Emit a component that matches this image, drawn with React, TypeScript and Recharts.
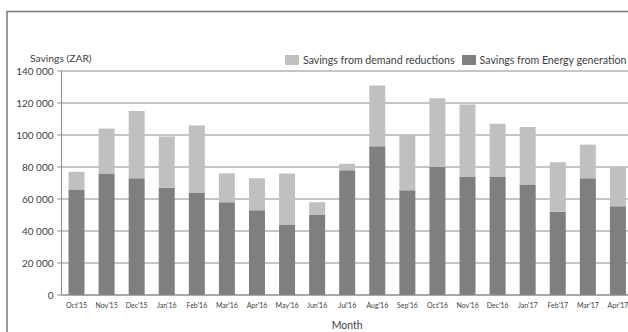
import React from 'react'
import { BarChart, Bar, XAxis, YAxis, CartesianGrid, Legend } from 'recharts'

const months = [
  "Oct'15", "Nov'15", "Dec'15", "Jan'16", "Feb'16", "Mar'16", "Apr'16", "May'16", "Jun'16", "Jul'16",
  "Aug'16", "Sep'16", "Oct'16", "Nov'16", "Dec'16", "Jan'17", "Feb'17", "Mar'17", "Apr'17",
]

// savings from energy generation (ZAR), bottom of each stack
const energyGeneration = [
  66000, 76000, 73000, 67000, 64000, 58000, 53000, 44000, 50000, 78000,
  93000, 65500, 80000, 74000, 74000, 69000, 52000, 73000, 55500,
]

// savings from demand reductions (ZAR), stacked on top
const demandReductions = [
  11000, 28000, 42000, 32000, 42000, 18000, 20000, 32000, 8000, 4000,
  38000, 34500, 43000, 45000, 33000, 36000, 31000, 21000, 24500,
]

const yTicks = [0, 20000, 40000, 60000, 80000, 100000, 120000, 140000]

const data = months.map((month, i) => ({
  month,
  energy: energyGeneration[i],
  demand: demandReductions[i],
}))

const FONT = 'Lato, "Liberation Sans", sans-serif'
const TEXT = '#404040'
const GRID = '#8c8c8c'
const LIGHT = '#c0c0c0'
const DARK = '#7f7f7f'

const fmt = (v: number) => v.toLocaleString('en-US').replace(/,/g, ' ')

function LegendContent({ payload }: any) {
  // demand reductions listed first, as on the original sheet
  const items = [...(payload || [])].reverse()
  return (
    <div style={{ display: 'flex', alignItems: 'center', fontFamily: FONT, fontSize: 10.6, color: TEXT, whiteSpace: 'nowrap' }}>
      {items.map((p: any) => (
        <div key={p.value} style={{ display: 'flex', alignItems: 'center', marginRight: 7 }}>
          <span style={{ display: 'inline-block', width: 14, height: 10, background: p.color, marginRight: 4 }} />
          <span>{p.value}</span>
        </div>
      ))}
    </div>
  )
}

export default function App() {
  return (
    <div style={{ position: 'fixed', left: 0, top: 0, width: 628, height: 332, overflow: 'hidden', background: '#fff' }}>
      <div style={{ position: 'absolute', left: 0, top: 0 }}>
        <BarChart width={640} height={332} data={data} margin={{ top: 71, right: 7, left: 0, bottom: 0 }}>
          <CartesianGrid vertical={false} stroke={GRID} />
          <XAxis
            dataKey="month"
            height={37}
            axisLine={{ stroke: GRID }}
            tickLine={false}
            tickSize={0}
            tickMargin={8}
            interval={0}
            tick={{ fontSize: 7, fill: TEXT, fontFamily: FONT }}
            label={{ value: 'Month', position: 'insideBottom', offset: 3, fontSize: 10.5, fill: TEXT, fontFamily: FONT }}
          />
          <YAxis
            width={61.5}
            domain={[0, 140000]}
            ticks={yTicks}
            tickFormatter={fmt}
            axisLine={{ stroke: GRID }}
            tickLine={{ stroke: GRID }}
            tickSize={4}
            tickMargin={4}
            tick={{ fontSize: 10, fill: TEXT, fontFamily: FONT }}
            label={{
              content: () => (
                <text x={30} y={61.5} fontSize={10.3} fill={TEXT} fontFamily={FONT}>Savings (ZAR)</text>
              ),
            }}
          />
          <Legend
            verticalAlign="middle"
            layout="horizontal"
            content={<LegendContent />}
            wrapperStyle={{ position: 'absolute', top: 54, left: 285, width: 'auto' }}
          />
          <Bar dataKey="energy" name="Savings from Energy generation" stackId="s" fill={DARK} barSize={16} isAnimationActive={false} />
          <Bar dataKey="demand" name="Savings from demand reductions" stackId="s" fill={LIGHT} barSize={16} isAnimationActive={false} />
        </BarChart>
      </div>
      {/* chart frame; its right and bottom edges fall outside the view */}
      <svg width={628} height={332} style={{ position: 'absolute', left: 0, top: 0, pointerEvents: 'none' }}>
        <path d="M7 332 V11.5 H628" fill="none" stroke="#7a7a7a" strokeWidth={1.5} />
      </svg>
    </div>
  )
}
